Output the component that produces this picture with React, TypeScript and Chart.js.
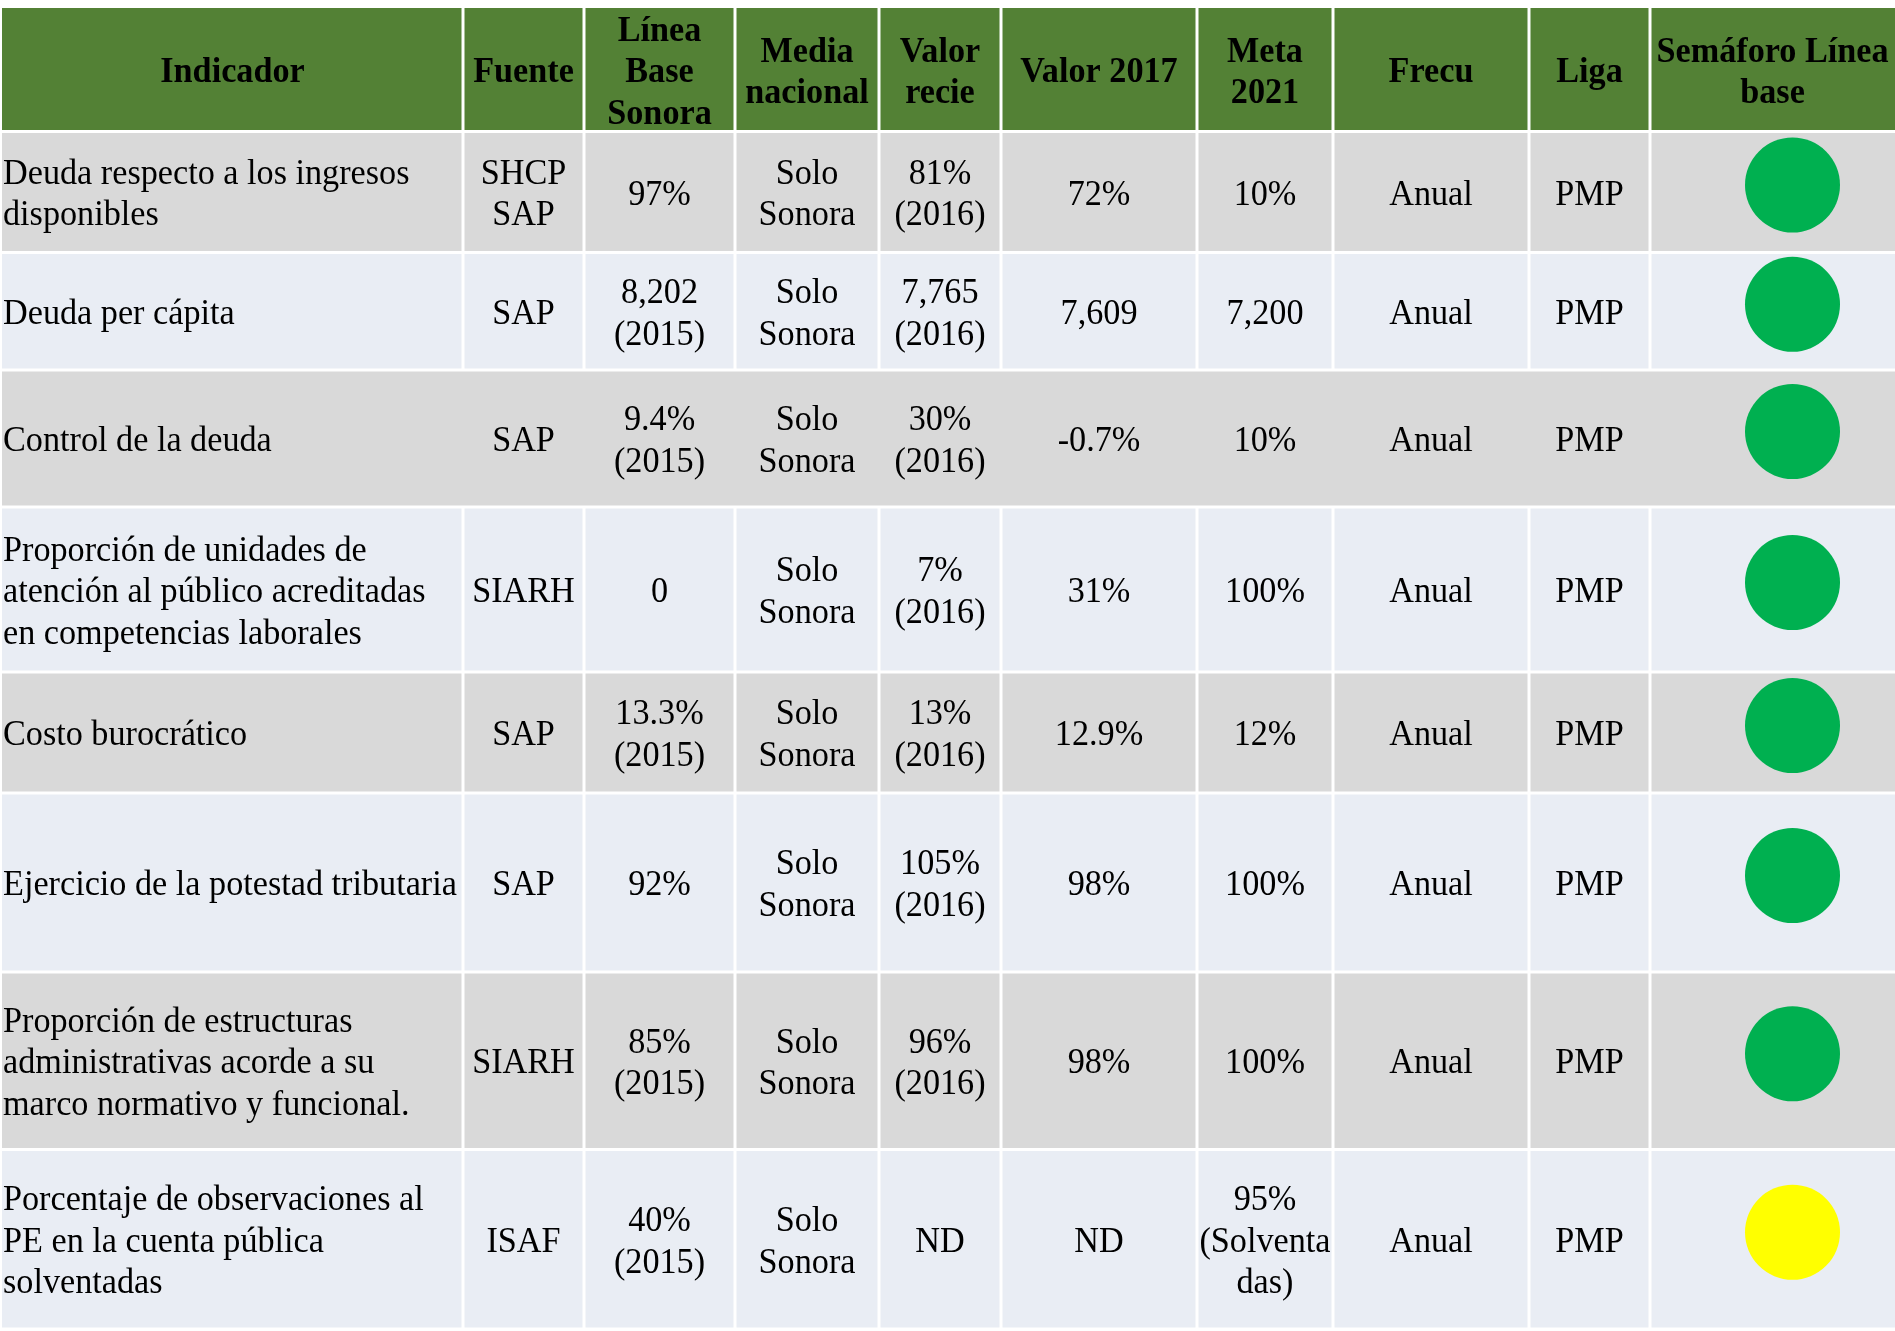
import React, { useEffect, useRef } from "react";
import { Chart, registerables } from "chart.js";

Chart.register(...registerables);

// ---- Data ----
const headers = [
  "Indicador",
  "Fuente",
  "Línea\nBase\nSonora",
  "Media\nnacional",
  "Valor\nrecie",
  "Valor 2017",
  "Meta\n2021",
  "Frecu",
  "Liga",
  "Semáforo Línea\nbase",
];

const indicadores = [
  "Deuda respecto a los ingresos\ndisponibles",
  "Deuda per cápita",
  "Control de la deuda",
  "Proporción de unidades de\natención al público acreditadas\nen competencias laborales",
  "Costo burocrático",
  "Ejercicio de la potestad tributaria",
  "Proporción de estructuras\nadministrativas acorde a su\nmarco normativo y funcional.",
  "Porcentaje de observaciones al\nPE en la cuenta pública\nsolventadas",
];
const fuentes = ["SHCP\nSAP", "SAP", "SAP", "SIARH", "SAP", "SAP", "SIARH", "ISAF"];
const lineaBase = ["97%", "8,202\n(2015)", "9.4%\n(2015)", "0", "13.3%\n(2015)", "92%", "85%\n(2015)", "40%\n(2015)"];
const mediaNacional = ["Solo\nSonora", "Solo\nSonora", "Solo\nSonora", "Solo\nSonora", "Solo\nSonora", "Solo\nSonora", "Solo\nSonora", "Solo\nSonora"];
const valorReciente = ["81%\n(2016)", "7,765\n(2016)", "30%\n(2016)", "7%\n(2016)", "13%\n(2016)", "105%\n(2016)", "96%\n(2016)", "ND"];
const valor2017 = ["72%", "7,609", "-0.7%", "31%", "12.9%", "98%", "98%", "ND"];
const meta2021 = ["10%", "7,200", "10%", "100%", "12%", "100%", "100%", "95%\n(Solventa\ndas)"];
const frecuencia = ["Anual", "Anual", "Anual", "Anual", "Anual", "Anual", "Anual", "Anual"];
const liga = ["PMP", "PMP", "PMP", "PMP", "PMP", "PMP", "PMP", "PMP"];
const semaforo = ["verde", "verde", "verde", "verde", "verde", "verde", "verde", "amarillo"];

// ---- Layout (table units on the chart's scales) ----
const colEdges = [2, 463, 584, 735, 879, 1001, 1197, 1333, 1529, 1650, 1895];
const rowEdges = [8, 131.5, 252.5, 370, 507, 672, 793, 972, 1149.5, 1329];
const rowsWithoutVerticalRules = [2];

// ---- Styles ----
const HEADER_BG = "#538135";
const ROW_BG = ["#D9D9D9", "#E9EDF4"];
const SEMAFORO_COLORS: Record<string, string> = { verde: "#00B050", amarillo: "#FFFF00" };
const FONT_PX = 36;
const LINE_H = 41.5;
const BASE_OFF = 12.5;
const SCALE_X = 0.95;
const GAP = 3;
const SEMAFORO_SHIFT_X = 20;
const SEMAFORO_SHIFT_Y = -7;
const FONT_FAMILY = '"Liberation Serif", "Times New Roman", serif';

const columns = [indicadores, fuentes, lineaBase, mediaNacional, valorReciente, valor2017, meta2021, frecuencia, liga];

function drawText(
  ctx: CanvasRenderingContext2D,
  text: string,
  x: number,
  cy: number,
  align: CanvasTextAlign,
  bold: boolean
) {
  const lines = text.split("\n");
  ctx.font = `${bold ? "bold " : ""}${FONT_PX}px ${FONT_FAMILY}`;
  ctx.textAlign = align;
  ctx.textBaseline = "alphabetic";
  ctx.fillStyle = "#000000";
  lines.forEach((ln, i) => {
    const y = cy + (i - (lines.length - 1) / 2) * LINE_H + BASE_OFF;
    ctx.save();
    ctx.translate(x, y);
    ctx.scale(SCALE_X, 1);
    ctx.fillText(ln, 0, 0);
    ctx.restore();
  });
}

const tablePlugin = {
  id: "tablePlugin",
  beforeDatasetsDraw(chart: any) {
    const ctx: CanvasRenderingContext2D = chart.ctx;
    const xs = chart.scales.x;
    const ys = chart.scales.y;
    const px = (v: number) => xs.getPixelForValue(v);
    const py = (v: number) => ys.getPixelForValue(v);
    ctx.save();
    ctx.fillStyle = "#FFFFFF";
    ctx.fillRect(0, 0, chart.width, chart.height);

    const nCols = colEdges.length - 1;
    const nRows = rowEdges.length - 1;
    for (let r = 0; r < nRows; r++) {
      const top = py(rowEdges[r]) + (r === 0 ? 0 : GAP / 2);
      const bottom = py(rowEdges[r + 1]) - GAP / 2;
      const bg = r === 0 ? HEADER_BG : ROW_BG[(r - 1) % 2];
      ctx.fillStyle = bg;
      if (r > 0 && rowsWithoutVerticalRules.includes(r - 1)) {
        ctx.fillRect(px(colEdges[0]), top, px(colEdges[nCols]) - px(colEdges[0]), bottom - top);
      } else {
        for (let c = 0; c < nCols; c++) {
          const left = px(colEdges[c]) + (c === 0 ? 0 : GAP / 2);
          const right = px(colEdges[c + 1]) - (c === nCols - 1 ? 0 : GAP / 2);
          ctx.fillRect(left, top, right - left, bottom - top);
        }
      }
    }

    // header text
    const hcy = (py(rowEdges[0]) + py(rowEdges[1])) / 2;
    headers.forEach((h, c) => {
      const cx = (px(colEdges[c]) + px(colEdges[c + 1])) / 2;
      drawText(ctx, h, cx, hcy, "center", true);
    });

    // body text
    for (let r = 0; r < indicadores.length; r++) {
      const cy = (py(rowEdges[r + 1]) + py(rowEdges[r + 2])) / 2;
      columns.forEach((col, c) => {
        if (c === 0) {
          drawText(ctx, col[r], px(colEdges[0]) + 1, cy, "left", false);
        } else {
          const cx = (px(colEdges[c]) + px(colEdges[c + 1])) / 2;
          drawText(ctx, col[r], cx, cy, "center", false);
        }
      });
    }
    ctx.restore();
  },
};

export default function App() {
  const ref = useRef<HTMLCanvasElement | null>(null);
  useEffect(() => {
    document.body.style.margin = "0";
    document.body.style.overflow = "hidden";
    const canvas = ref.current;
    if (!canvas) return;
    const nCols = colEdges.length - 1;
    const semX = (colEdges[nCols - 1] + colEdges[nCols]) / 2 + SEMAFORO_SHIFT_X;
    const points = semaforo.map((_, r) => ({
      x: semX,
      y: (rowEdges[r + 1] + rowEdges[r + 2]) / 2 + SEMAFORO_SHIFT_Y,
    }));
    const chart = new Chart(canvas, {
      type: "scatter",
      data: {
        datasets: [
          {
            label: "Semáforo",
            data: points,
            pointRadius: 47.5,
            pointHoverRadius: 47.5,
            pointStyle: "circle",
            borderWidth: 0,
            backgroundColor: semaforo.map((s) => SEMAFORO_COLORS[s]),
            borderColor: semaforo.map((s) => SEMAFORO_COLORS[s]),
            clip: false,
          } as any,
        ],
      },
      options: {
        animation: false,
        responsive: false,
        events: [],
        layout: { padding: 0, autoPadding: false },
        plugins: { legend: { display: false }, tooltip: { enabled: false } },
        scales: {
          x: { type: "linear", min: 0, max: 1895, display: false },
          y: { type: "linear", min: 0, max: 1331, reverse: true, display: false },
        },
      } as any,
      plugins: [tablePlugin],
    });
    return () => chart.destroy();
  }, []);
  return (
    <div style={{ width: 1895, height: 1331, overflow: "hidden" }}>
      <canvas ref={ref} width={1895} height={1331} style={{ display: "block", width: 1895, height: 1331 }} />
    </div>
  );
}
